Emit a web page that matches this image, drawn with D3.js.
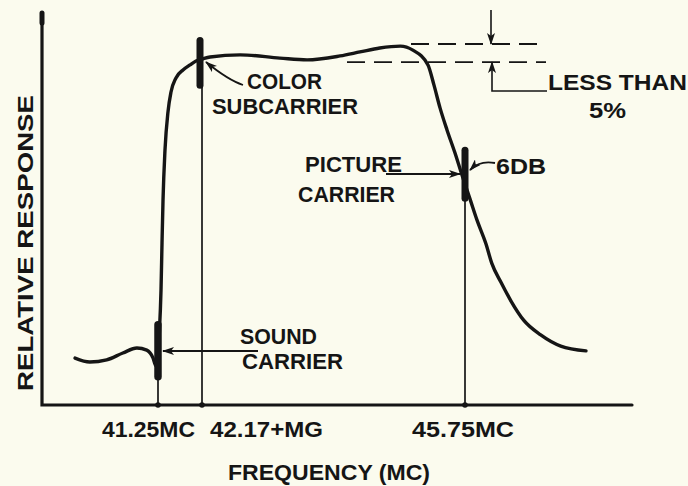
<!DOCTYPE html>
<html>
<head>
<meta charset="utf-8">
<script src="https://cdn.jsdelivr.net/npm/d3@7"></script>
<style>
  html, body { margin: 0; padding: 0; background: #fbfbee; }
  svg { display: block; }
  text { font-family: "Liberation Sans", Arial, sans-serif; font-weight: bold; fill: #151515; }
</style>
</head>
<body>
<svg id="chart" width="688" height="486"></svg>
<script>
// IF response curve of a colour TV receiver (frequency in MC, relative response 0..1)
const freq = [
  40.07, 40.28, 40.52, 40.75, 40.95, 41.09, 41.18, 41.22, 41.281, 41.313,
  41.334, 41.355, 41.396, 41.459, 41.522, 41.626, 41.773, 41.919, 42.045, 42.17,
  42.28, 42.69, 43.23, 43.60, 44.05, 44.32, 44.59, 44.87, 45.04, 45.246,
  45.328, 45.41, 45.505, 45.614, 45.709, 45.817, 45.912, 46.033, 46.11, 46.24,
  46.37, 46.54, 46.77, 47.04, 47.38
];
const response = [
  0.130, 0.119, 0.125, 0.144, 0.158, 0.152, 0.130, 0.108, 0.208, 0.319,
  0.449, 0.568, 0.706, 0.812, 0.867, 0.906, 0.928, 0.942, 0.953, 0.958,
  0.964, 0.970, 0.961, 0.956, 0.967, 0.978, 0.989, 0.994, 0.983, 0.942,
  0.886, 0.823, 0.762, 0.698, 0.637, 0.571, 0.512, 0.446, 0.393, 0.338,
  0.288, 0.235, 0.194, 0.163, 0.150
];

// carriers: sound, colour subcarrier, picture
const carrierFreqs = [41.25, 42.17, 45.75];
const tickLabels = ["41.25MC", "42.17+MG", "45.75MC"];
const markerTop = [0.222, 1.010, 0.706];
const markerBottom = [0.078, 0.886, 0.573];

// flat-top ripple band
const rippleLevels = [1.0, 0.95];

// the frequency axis is drawn "not to scale": piecewise-linear between the carriers
const freqStops = [39.6, 41.25, 42.17, 45.75, 48.0];
const yAxisTop = 1.086;

const svg = d3.select("#chart");
const W = 688, H = 486;
const ink = "#151515";

svg.append("rect").attr("width", W).attr("height", H).attr("fill", "#fbfbee");

const x = d3.scaleLinear().domain(freqStops).range([42, 158, 202, 465, 632]);
const y = d3.scaleLinear().domain([0, 1]).range([405, 44]);

// arrowhead marker
const defs = svg.append("defs");
defs.append("marker")
  .attr("id", "arrow")
  .attr("viewBox", "0 0 12 8")
  .attr("refX", 11).attr("refY", 4)
  .attr("markerWidth", 12).attr("markerHeight", 8)
  .attr("markerUnits", "userSpaceOnUse")
  .attr("orient", "auto")
  .append("path")
  .attr("d", "M0,0 L12,4 L0,8 L3,4 Z")
  .attr("fill", ink);

// axes
const [x0, x1] = [x(freqStops[0]), x(freqStops[freqStops.length - 1])];
svg.append("path")
  .attr("d", `M${x0},${y(yAxisTop)} L${x0},${y(0)} L${x1},${y(0)}`)
  .attr("fill", "none").attr("stroke", ink).attr("stroke-width", 3.2)
  .attr("stroke-linejoin", "miter").attr("stroke-linecap", "round");
// knob at top of the response axis
svg.append("line")
  .attr("x1", x0).attr("x2", x0)
  .attr("y1", y(yAxisTop)).attr("y2", y(yAxisTop) + 10)
  .attr("stroke", ink).attr("stroke-width", 5).attr("stroke-linecap", "round");

// carrier verticals from marker down to the frequency axis
carrierFreqs.forEach((f, i) => {
  svg.append("line")
    .attr("x1", x(f)).attr("x2", x(f))
    .attr("y1", y(markerBottom[i])).attr("y2", y(0))
    .attr("stroke", ink).attr("stroke-width", 1.7);
  svg.append("circle")
    .attr("cx", x(f)).attr("cy", y(0)).attr("r", 2.8).attr("fill", ink);
});

// response curve
const line = d3.line()
  .x((d, i) => x(freq[i]))
  .y((d, i) => y(response[i]))
  .curve(d3.curveMonotoneX);
svg.append("path")
  .datum(freq)
  .attr("d", line)
  .attr("fill", "none")
  .attr("stroke", ink)
  .attr("stroke-width", 3.4)
  .attr("stroke-linecap", "round")
  .attr("stroke-linejoin", "round");

// thick carrier markers
carrierFreqs.forEach((f, i) => {
  svg.append("line")
    .attr("x1", x(f) + (i === 1 ? -2 : 0)).attr("x2", x(f) + (i === 1 ? -2 : 0))
    .attr("y1", y(markerTop[i])).attr("y2", y(markerBottom[i]))
    .attr("stroke", ink).attr("stroke-width", i === 0 ? 7.5 : 7)
    .attr("stroke-linecap", "round");
});

// ripple band: dashed reference levels
const rippleStart = [411, 347];
rippleLevels.forEach((r, i) => {
  svg.append("line")
    .attr("x1", rippleStart[i]).attr("x2", 546)
    .attr("y1", y(r)).attr("y2", y(r))
    .attr("stroke", ink).attr("stroke-width", 1.8)
    .attr("stroke-dasharray", "18 9");
});
// dimension arrows
const dimX = 491;
svg.append("line")
  .attr("x1", dimX).attr("x2", dimX)
  .attr("y1", 10).attr("y2", y(rippleLevels[0]))
  .attr("stroke", ink).attr("stroke-width", 1.6)
  .attr("marker-end", "url(#arrow)");
svg.append("path")
  .attr("d", `M547,91 L${dimX + 1},91 L${dimX + 1},${y(rippleLevels[1])}`)
  .attr("fill", "none").attr("stroke", ink).attr("stroke-width", 1.6)
  .attr("marker-end", "url(#arrow)");

// annotation leaders
function leader(d) {
  svg.append("path").attr("d", d)
    .attr("fill", "none").attr("stroke", ink).attr("stroke-width", 1.8)
    .attr("marker-end", "url(#arrow)");
}
const cx = x(carrierFreqs[1]);
leader(`M243,85 Q228,80 ${cx + 4},${y(0.95)}`);
leader(`M258,351 L${x(carrierFreqs[0]) + 5},351`);
leader(`M386,174 L${x(carrierFreqs[2]) - 5},174`);
leader(`M495,163 Q480,160 ${x(carrierFreqs[2]) + 5},170`);

// text labels
function label(t, px, py, len, anchor) {
  return svg.append("text")
    .attr("x", px).attr("y", py)
    .attr("font-size", 22)
    .attr("text-anchor", anchor || "start")
    .attr("textLength", len)
    .attr("lengthAdjust", "spacingAndGlyphs")
    .text(t);
}
label("COLOR", 247, 89, 75);
label("SUBCARRIER", 212, 114, 146);
label("LESS THAN", 548, 90, 139);
label("5%", 589, 118, 37);
label("PICTURE", 305, 172, 97);
label("CARRIER", 298, 202, 97);
label("6DB", 496, 174, 50);
label("SOUND", 240, 344, 77);
label("CARRIER", 242, 369, 101);

// frequency tick labels
const tickStart = [102, 210, 412];
const tickLen = [93, 113, 102];
tickLabels.forEach((t, i) => label(t, tickStart[i], 437, tickLen[i]));

// axis titles
label("FREQUENCY (MC)", 228, 480, 202);
svg.append("text")
  .attr("transform", "translate(33,243) rotate(-90)")
  .attr("text-anchor", "middle")
  .attr("font-size", 22)
  .attr("textLength", 296)
  .attr("lengthAdjust", "spacingAndGlyphs")
  .text("RELATIVE RESPONSE");
</script>
</body>
</html>
